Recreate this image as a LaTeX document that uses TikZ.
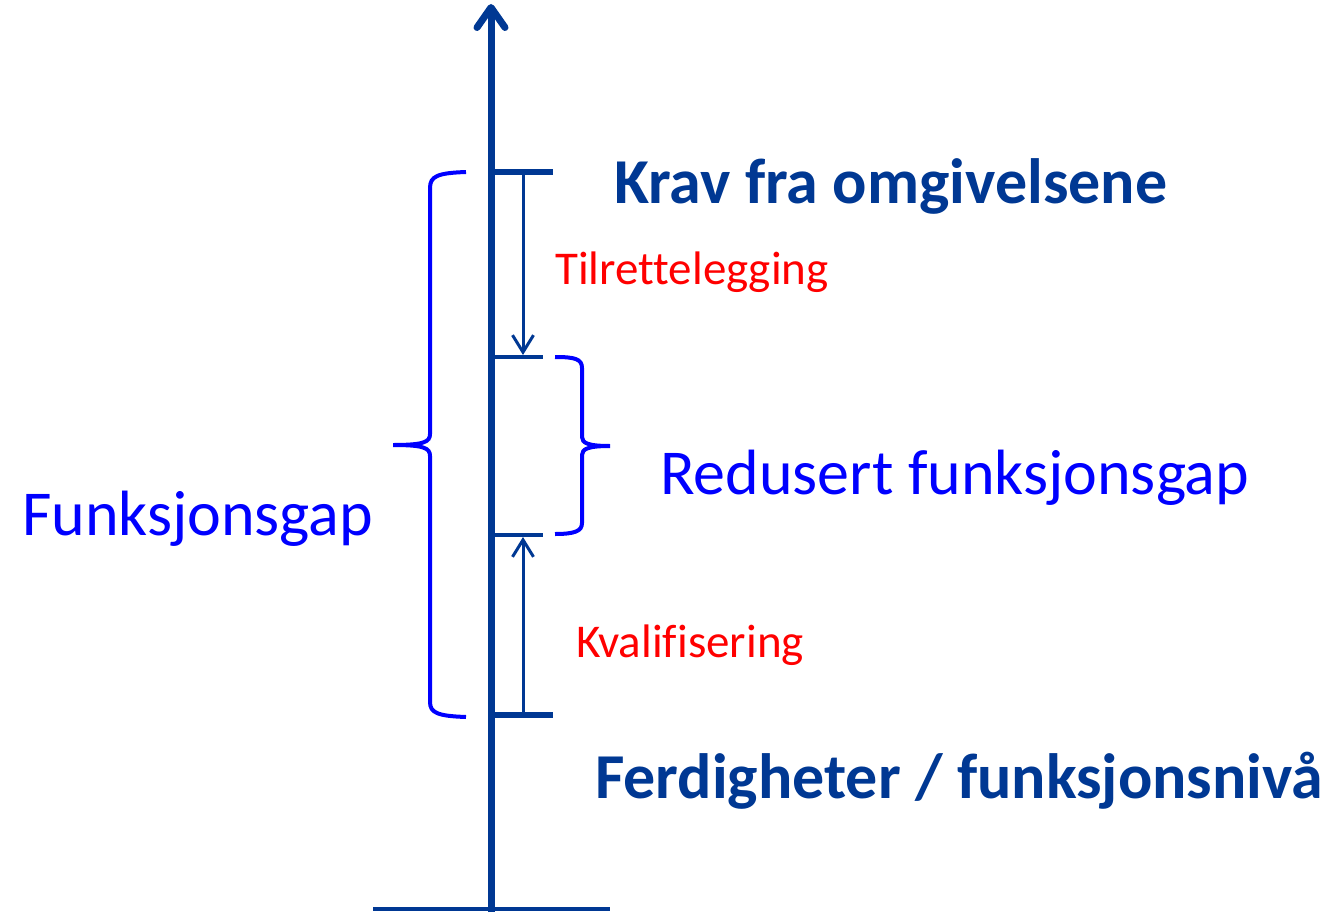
\documentclass[tikz,border=0pt]{standalone}
\usepackage{fontspec}
\setmainfont[Ligatures=NoCommon]{Carlito}
\usetikzlibrary{arrows.meta}
\definecolor{dblue}{RGB}{0,56,147}
\definecolor{pblue}{RGB}{0,0,255}
\definecolor{pred}{RGB}{255,0,0}
\tikzset{
  axisline/.style={draw=dblue, line width=7pt},
  thickbar/.style={draw=dblue, line width=6pt},
  thinbar/.style={draw=dblue, line width=4pt},
  smallarrow/.style={draw=dblue, line width=3pt, -{Straight Barb[length=17pt,width=21pt]}},
  bracepath/.style={draw=pblue, line width=4pt},
  bigtext/.style={inner sep=0pt, anchor=base west, font=\fontsize{64}{70}\selectfont},
  smalltext/.style={inner sep=0pt, anchor=base west, text=pred, font=\fontsize{47}{52}\selectfont},
}
\begin{document}
\begin{tikzpicture}[x=1pt,y=-1pt]
\useasboundingbox (0,0) rectangle (1329,912);
% coordinates
\coordinate (axbot) at (491,912);
\coordinate (axtop) at (491,4);
\coordinate (baseL) at (373,909);
\coordinate (baseR) at (610,909);
\coordinate (topL) at (491,172);
\coordinate (topR) at (553,172);
\coordinate (midaL) at (491,357);
\coordinate (midaR) at (543,357);
\coordinate (midbL) at (491,535);
\coordinate (midbR) at (543,535);
\coordinate (botL) at (491,715);
\coordinate (botR) at (553,715);
\coordinate (a1s) at (523,172);
\coordinate (a1e) at (523,355);
\coordinate (a2s) at (523,715);
\coordinate (a2e) at (523,537);
% base and axis
\draw[thinbar] (baseL) -- (baseR);
\draw[axisline, -{Straight Barb[length=20pt,width=28pt,round]}] (axbot) -- (axtop);
% bars
\draw[thickbar] (topL) -- (topR);
\draw[thickbar] (botL) -- (botR);
\draw[thinbar] (midaL) -- (midaR);
\draw[thinbar] (midbL) -- (midbR);
% small arrows
\draw[smallarrow] (a1s) -- (a1e);
\draw[smallarrow] (a2s) -- (a2e);
% left brace
\draw[bracepath] (466,172) .. controls (438,173) and (430,176) .. (430,188) -- (430,434)
  .. controls (430,442) and (424,445) .. (393,445)
  .. controls (424,445) and (430,448) .. (430,456) -- (430,702)
  .. controls (430,713) and (438,716) .. (466,717);
% right brace
\draw[bracepath] (555,357) .. controls (575,357) and (582,359) .. (582,368) -- (582,437)
  .. controls (582,443) and (588,446) .. (610,446)
  .. controls (588,446) and (582,449) .. (582,455) -- (582,523)
  .. controls (582,531) and (575,534) .. (555,534);
% texts
\node[bigtext, text=dblue, font=\fontsize{64}{70}\selectfont\bfseries] (krav) at (614,203) {Krav fra omgivelsene};
\node[smalltext] (tilr) at (555,284) {Tilrettelegging};
\node[bigtext, text=pblue] (redu) at (660,494) {Redusert funksjonsgap};
\node[bigtext, text=pblue] (funk) at (22,535) {Funksjonsgap};
\node[smalltext] (kval) at (576,657) {Kvalifisering};
\node[bigtext, text=dblue, font=\fontsize{64}{70}\selectfont\bfseries] (ferd) at (595,798) {Ferdigheter / funksjonsnivå};
\end{tikzpicture}
\end{document}
